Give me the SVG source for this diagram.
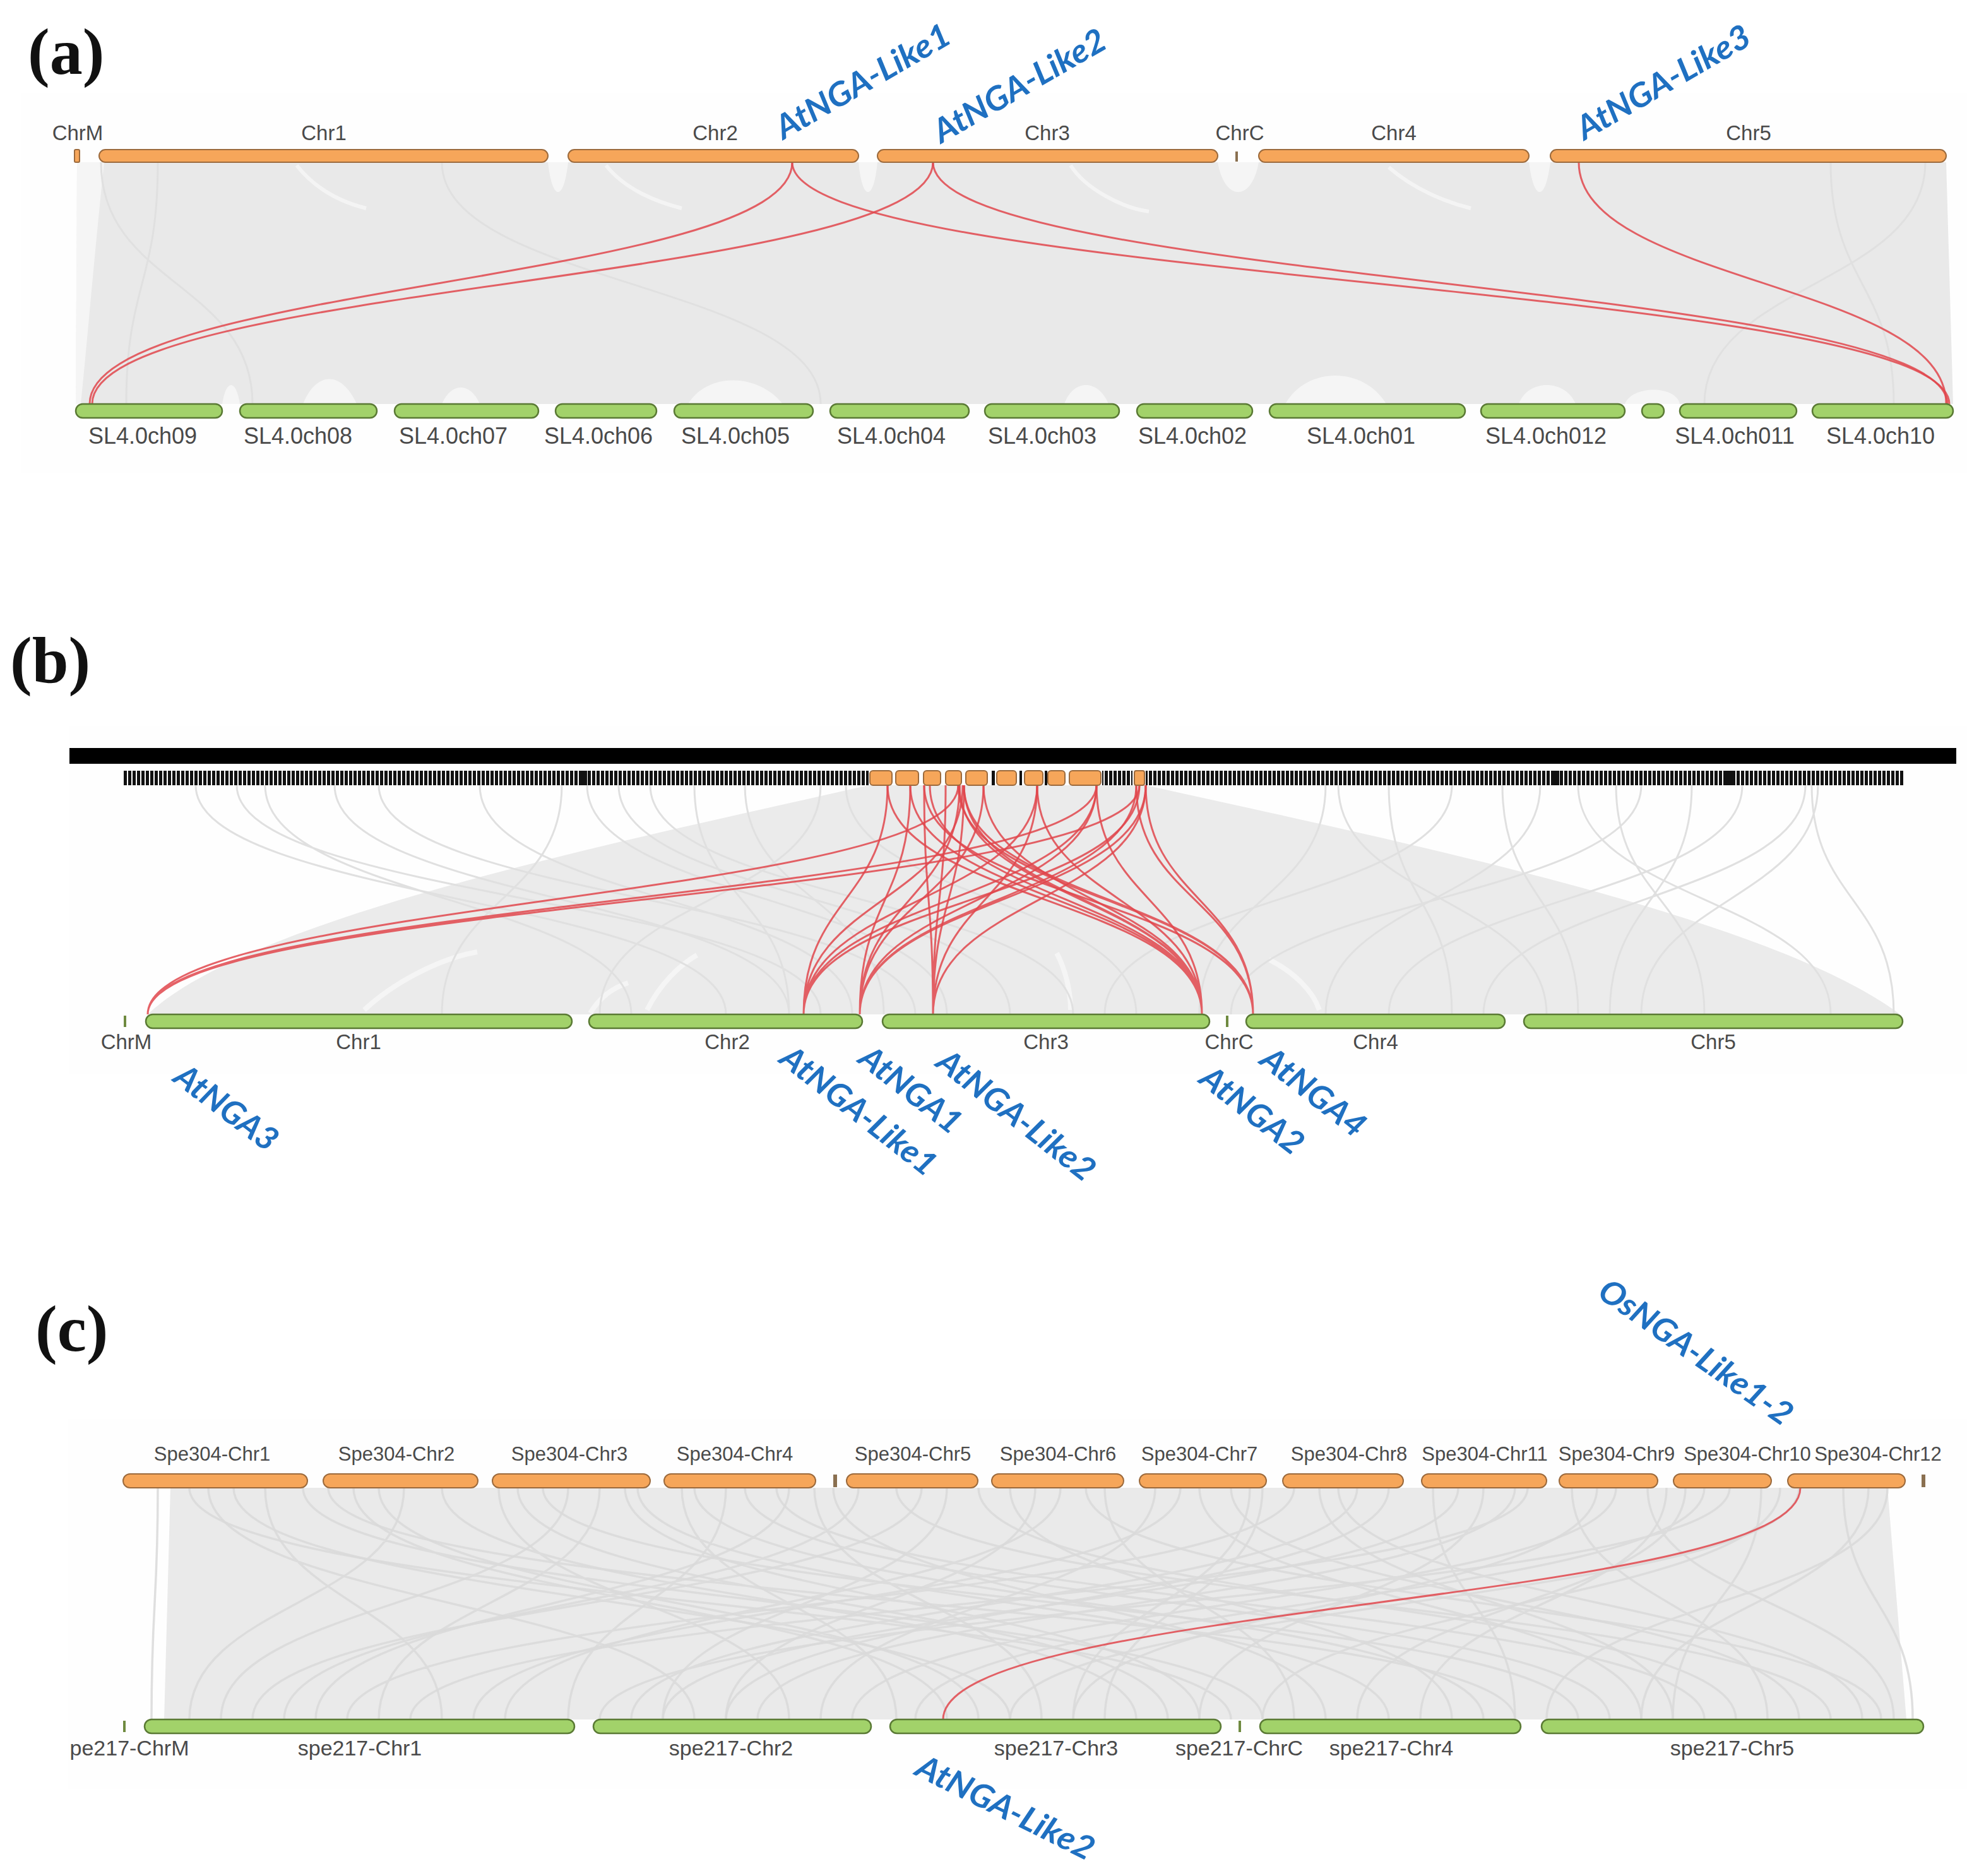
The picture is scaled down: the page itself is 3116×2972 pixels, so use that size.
<svg xmlns="http://www.w3.org/2000/svg" width="3116" height="2972" viewBox="0 0 3116 2972">
<defs>
<style>
.orn{fill:#f6a65a;stroke:#9c6a3c;stroke-width:2}
.grn{fill:#a2d26a;stroke:#5a7a34;stroke-width:2.5}
.mk{fill:#8a7050}
.mkg{fill:#6f8a40}
.lab{font-family:"Liberation Sans",Arial,sans-serif;fill:#4a4a4a;text-anchor:middle}
.l33{font-size:33px}
.l36{font-size:36px}
.l31{font-size:31px}
.l34{font-size:34px}
.gene{font-family:Lato,"Open Sans",sans-serif;font-weight:700;font-style:italic;fill:#1f70c1;font-size:52px}
.plabel{font-family:"Liberation Serif","Times New Roman",serif;font-weight:700;font-size:104px;fill:#111}
.red{fill:none;stroke:#e0474c;stroke-width:3;stroke-opacity:0.85}
.gl{fill:none;stroke:#e0e0e0;stroke-width:3}
.glc{fill:none;stroke:#d9d9d9;stroke-width:3.5;stroke-opacity:0.85}
.wh{fill:#ffffff;fill-opacity:0.55}
.whs{fill:none;stroke:#ffffff;stroke-opacity:0.5}
</style>
<pattern id="tk" width="7" height="23" patternUnits="userSpaceOnUse"><rect x="0" y="0" width="5" height="23" fill="#111"/></pattern>
</defs>
<rect width="3116" height="2972" fill="#ffffff"/>

<!-- faint panel backgrounds -->
<rect x="33" y="147" width="3083" height="602" fill="#fefefe"/>
<rect x="110" y="1150" width="3006" height="552" fill="#fefefe"/>
<rect x="108" y="2248" width="3008" height="586" fill="#fefefe"/>

<!-- panel labels -->
<text class="plabel" x="44" y="117">(a)</text>
<text class="plabel" x="16" y="1081">(b)</text>
<text class="plabel" x="56" y="2140">(c)</text>

<!-- background link areas -->
<g id="background-links">
<g id="bg-a">
<path d="M122,257 L3083,257 L3094,640 L120,640 Z" fill="#e9e9e9"/>
<path class="wh" d="M122,257 L165,257 C150,400 140,520 128,640 L120,640 Z"/>
<path class="wh" d="M868,257 C875,320 893,320 900,257 Z"/>
<path class="wh" d="M1360,257 C1366,320 1384,320 1390,257 Z"/>
<path class="wh" d="M1929,257 C1940,320 1983,320 1994,257 Z"/>
<path class="wh" d="M2422,257 C2430,320 2448,320 2456,257 Z"/>
<path class="wh" d="M352,640 C358,600 374,600 380,640 Z"/>
<path class="wh" d="M480,640 C500,590 540,585 565,640 Z"/>
<path class="wh" d="M700,640 C715,605 745,605 760,640 Z"/>
<path class="wh" d="M1090,640 C1120,590 1200,590 1240,640 Z"/>
<path class="wh" d="M1686,640 C1700,600 1740,600 1756,640 Z"/>
<path class="wh" d="M2036,640 C2070,580 2160,580 2196,640 Z"/>
<path class="wh" d="M2406,640 C2420,600 2480,600 2496,640 Z"/>
<path class="wh" d="M2574,640 C2585,610 2655,610 2661,640 Z"/>
<path class="whs" stroke-width="6" d="M470,262 C500,300 540,320 580,330 M960,262 C990,300 1040,320 1080,330 M1696,262 C1720,300 1780,330 1820,335 M2200,265 C2240,300 2290,320 2330,330"/>
<path class="gl" stroke="#dadada" d="M160,257 C160,450 400,450 400,640 M250,257 C250,450 200,450 200,640 M700,257 C700,450 1300,450 1300,640 M2900,257 C2900,450 3000,450 3000,640 M3050,257 C3050,450 2700,450 2700,640"/>
</g>
<g id="bg-b">
<path d="M1376,1244 L1815,1244 C2200,1330 2800,1450 3010,1607 L234,1607 C400,1450 1000,1330 1376,1244 Z" fill="#ebebeb"/>
<path class="whs" stroke-width="8" d="M577,1600 C620,1560 690,1520 756,1508 M935,1605 C950,1580 970,1565 995,1557 M1025,1600 C1045,1560 1075,1530 1104,1513 M1674,1510 C1690,1540 1696,1575 1696,1600 M2010,1520 C2050,1540 2080,1570 2090,1600"/>
<path class="gl" d="M310,1244 C310,1425 1150,1425 1150,1607 M375,1244 C375,1425 1300,1425 1300,1607 M420,1244 C420,1425 1000,1425 1000,1607 M530,1244 C530,1425 1250,1425 1250,1607 M600,1244 C600,1425 1450,1425 1450,1607 M890,1244 C890,1425 700,1425 700,1607 M930,1244 C930,1425 1500,1425 1500,1607 M980,1244 C980,1425 1600,1425 1600,1607 M1030,1244 C1030,1425 1700,1425 1700,1607 M1180,1244 C1180,1425 1400,1425 1400,1607 M1300,1244 C1300,1425 950,1425 950,1607 M1340,1244 C1340,1425 1800,1425 1800,1607 M760,1244 C760,1425 1350,1425 1350,1607 M1100,1244 C1100,1425 1250,1425 1250,1607"/>
<path class="gl" d="M2100,1244 C2100,1425 1900,1425 1900,1607 M2200,1244 C2200,1425 2300,1425 2300,1607 M2300,1244 C2300,1425 1750,1425 1750,1607 M2380,1244 C2380,1425 2500,1425 2500,1607 M2440,1244 C2440,1425 2100,1425 2100,1607 M2560,1244 C2560,1425 2700,1425 2700,1607 M2600,1244 C2600,1425 1950,1425 1950,1607 M2760,1244 C2760,1425 2200,1425 2200,1607 M2860,1244 C2860,1425 2350,1425 2350,1607 M2870,1244 C2870,1425 3000,1425 3000,1607 M2880,1244 C2880,1425 2600,1425 2600,1607 M2500,1244 C2500,1425 2900,1425 2900,1607 M2120,1244 C2120,1425 2450,1425 2450,1607 M2680,1244 C2680,1425 2550,1425 2550,1607"/>
</g>
<g id="bg-c">
<path d="M270,2357 L2990,2357 L3020,2724 L260,2724 Z" fill="#eaeaea"/>
<path class="glc" d="M250,2357 C250,2540 240,2540 240,2724 M330,2357 C330,2540 1100,2540 1100,2724 M420,2357 C420,2540 700,2540 700,2724 M480,2357 C480,2540 2000,2540 2000,2724 M560,2357 C560,2540 1500,2540 1500,2724 M640,2357 C640,2540 300,2540 300,2724 M700,2357 C700,2540 1800,2540 1800,2724 M790,2357 C790,2540 1250,2540 1250,2724 M860,2357 C860,2540 2500,2540 2500,2724 M950,2357 C950,2540 600,2540 600,2724 M1010,2357 C1010,2540 2200,2540 2200,2724 M1080,2357 C1080,2540 1420,2540 1420,2724 M1150,2357 C1150,2540 900,2540 900,2724 M1230,2357 C1230,2540 2700,2540 2700,2724 M1290,2357 C1290,2540 1650,2540 1650,2724 M1360,2357 C1360,2540 450,2540 450,2724 M1420,2357 C1420,2540 2900,2540 2900,2724 M1500,2357 C1500,2540 1050,2540 1050,2724 M1600,2357 C1600,2540 2300,2540 2300,2724 M1680,2357 C1680,2540 800,2540 800,2724 M1750,2357 C1750,2540 2050,2540 2050,2724 M1830,2357 C1830,2540 1300,2540 1300,2724 M1900,2357 C1900,2540 2600,2540 2600,2724 M1980,2357 C1980,2540 1700,2540 1700,2724 M2050,2357 C2050,2540 550,2540 550,2724"/>
<path class="glc" d="M2120,2357 C2120,2540 2950,2540 2950,2724 M2200,2357 C2200,2540 1150,2540 1150,2724 M2270,2357 C2270,2540 2400,2540 2400,2724 M2350,2357 C2350,2540 1900,2540 1900,2724 M2420,2357 C2420,2540 650,2540 650,2724 M2490,2357 C2490,2540 2800,2540 2800,2724 M2560,2357 C2560,2540 1350,2540 1350,2724 M2610,2357 C2610,2540 3000,2540 3000,2724 M2670,2357 C2670,2540 2150,2540 2150,2724 M2740,2357 C2740,2540 950,2540 950,2724 M2790,2357 C2790,2540 2650,2540 2650,2724 M2850,2357 C2850,2540 1600,2540 1600,2724 M2920,2357 C2920,2540 3030,2540 3030,2724 M2990,2357 C2990,2540 2450,2540 2450,2724 M300,2357 C300,2540 1950,2540 1950,2724 M900,2357 C900,2540 350,2540 350,2724 M1550,2357 C1550,2540 2750,2540 2750,2724 M2150,2357 C2150,2540 1000,2540 1000,2724 M2700,2357 C2700,2540 1450,2540 1450,2724 M600,2357 C600,2540 1550,2540 1550,2724 M1100,2357 C1100,2540 2350,2540 2350,2724 M2400,2357 C2400,2540 1200,2540 1200,2724 M1950,2357 C1950,2540 2850,2540 2850,2724 M1250,2357 C1250,2540 500,2540 500,2724 M2000,2357 C2000,2540 1750,2540 1750,2724"/>
<path class="glc" d="M370,2357 C370,2540 1600,2540 1600,2724 M520,2357 C520,2540 2400,2540 2400,2724 M820,2357 C820,2540 1850,2540 1850,2724 M1180,2357 C1180,2540 2550,2540 2550,2724 M1460,2357 C1460,2540 400,2540 400,2724 M1640,2357 C1640,2540 1150,2540 1150,2724 M1870,2357 C1870,2540 750,2540 750,2724 M2090,2357 C2090,2540 2650,2540 2650,2724 M2310,2357 C2310,2540 1050,2540 1050,2724 M2530,2357 C2530,2540 1700,2540 1700,2724 M2640,2357 C2640,2540 2250,2540 2250,2724 M2820,2357 C2820,2540 2000,2540 2000,2724 M2960,2357 C2960,2540 2600,2540 2600,2724 M1720,2357 C1720,2540 2980,2540 2980,2724 M990,2357 C990,2540 1900,2540 1900,2724 M1320,2357 C1320,2540 2100,2540 2100,2724"/>
</g>
</g>

<!-- highlighted connectors -->
<g id="connectors">
<g id="links-a">
<path class="red" d="M1255,257 C1255,448 142,448 142,640"/>
<path class="red" d="M1255,257 C1255,448 3088,448 3088,640"/>
<path class="red" d="M1478,257 C1478,448 146,448 146,640"/>
<path class="red" d="M1478,257 C1478,448 3085,448 3085,640"/>
<path class="red" d="M2501,257 C2501,448 3083,448 3083,640"/>
</g>
<g id="links-b">
<path class="red" d="M1518,1244 C1518,1425 234,1425 234,1607 M1737,1244 C1737,1425 234,1425 234,1607 M1805,1244 C1805,1425 234,1425 234,1607"/>
<path class="red" d="M1406,1244 C1406,1425 1273,1425 1273,1607 M1525,1244 C1525,1425 1273,1425 1273,1607 M1643,1244 C1643,1425 1273,1425 1273,1607 M1737,1244 C1737,1425 1273,1425 1273,1607 M1805,1244 C1805,1425 1273,1425 1273,1607"/>
<path class="red" d="M1442,1244 C1442,1425 1362,1425 1362,1607 M1520,1244 C1520,1425 1362,1425 1362,1607 M1558,1244 C1558,1425 1362,1425 1362,1607 M1737,1244 C1737,1425 1362,1425 1362,1607 M1800,1244 C1800,1425 1362,1425 1362,1607 M1815,1244 C1815,1425 1362,1425 1362,1607"/>
<path class="red" d="M1464,1244 C1464,1425 1478,1425 1478,1607 M1498,1244 C1498,1425 1478,1425 1478,1607 M1527,1244 C1527,1425 1478,1425 1478,1607 M1643,1244 C1643,1425 1478,1425 1478,1607 M1815,1244 C1815,1425 1478,1425 1478,1607"/>
<path class="red" d="M1406,1244 C1406,1425 1904,1425 1904,1607 M1442,1244 C1442,1425 1904,1425 1904,1607 M1473,1244 C1473,1425 1904,1425 1904,1607 M1520,1244 C1520,1425 1904,1425 1904,1607 M1527,1244 C1527,1425 1904,1425 1904,1607 M1558,1244 C1558,1425 1904,1425 1904,1607 M1643,1244 C1643,1425 1904,1425 1904,1607 M1737,1244 C1737,1425 1904,1425 1904,1607"/>
<path class="red" d="M1464,1244 C1464,1425 1985,1425 1985,1607 M1518,1244 C1518,1425 1985,1425 1985,1607 M1527,1244 C1527,1425 1985,1425 1985,1607 M1800,1244 C1800,1425 1985,1425 1985,1607 M1815,1244 C1815,1425 1985,1425 1985,1607"/>
</g>
<g id="links-c">
<path class="red" d="M2852,2357 C2852,2540 1494,2540 1494,2724"/>
</g>
</g>

<!-- panel (a) chromosomes -->
<g id="a-top">
<g id="a-ChrM"><rect class="orn" x="118" y="237" width="8" height="20" rx="2"/><text class="lab l33" x="123" y="222">ChrM</text></g>
<g id="a-Chr1"><rect class="orn" x="157" y="237" width="711" height="20" rx="10"/><text class="lab l33" x="513" y="222">Chr1</text></g>
<g id="a-Chr2"><rect class="orn" x="900" y="237" width="460" height="20" rx="10"/><text class="lab l33" x="1133" y="222">Chr2</text></g>
<g id="a-Chr3"><rect class="orn" x="1390" y="237" width="539" height="20" rx="10"/><text class="lab l33" x="1659" y="222">Chr3</text></g>
<g id="a-ChrC"><rect class="mk" x="1957" y="240" width="4" height="16"/><text class="lab l33" x="1964" y="222">ChrC</text></g>
<g id="a-Chr4"><rect class="orn" x="1994" y="237" width="428" height="20" rx="10"/><text class="lab l33" x="2208" y="222">Chr4</text></g>
<g id="a-Chr5"><rect class="orn" x="2456" y="237" width="627" height="20" rx="10"/><text class="lab l33" x="2770" y="222">Chr5</text></g>
</g>
<g id="a-bottom">
<g id="a-ch09"><rect class="grn" x="120" y="640" width="232" height="22" rx="11"/><text class="lab l36" x="226" y="703">SL4.0ch09</text></g>
<g id="a-ch08"><rect class="grn" x="380" y="640" width="217" height="22" rx="11"/><text class="lab l36" x="472" y="703">SL4.0ch08</text></g>
<g id="a-ch07"><rect class="grn" x="625" y="640" width="228" height="22" rx="11"/><text class="lab l36" x="718" y="703">SL4.0ch07</text></g>
<g id="a-ch06"><rect class="grn" x="880" y="640" width="160" height="22" rx="11"/><text class="lab l36" x="948" y="703">SL4.0ch06</text></g>
<g id="a-ch05"><rect class="grn" x="1068" y="640" width="220" height="22" rx="11"/><text class="lab l36" x="1165" y="703">SL4.0ch05</text></g>
<g id="a-ch04"><rect class="grn" x="1315" y="640" width="220" height="22" rx="11"/><text class="lab l36" x="1412" y="703">SL4.0ch04</text></g>
<g id="a-ch03"><rect class="grn" x="1560" y="640" width="213" height="22" rx="11"/><text class="lab l36" x="1651" y="703">SL4.0ch03</text></g>
<g id="a-ch02"><rect class="grn" x="1801" y="640" width="183" height="22" rx="11"/><text class="lab l36" x="1889" y="703">SL4.0ch02</text></g>
<g id="a-ch01"><rect class="grn" x="2011" y="640" width="310" height="22" rx="11"/><text class="lab l36" x="2156" y="703">SL4.0ch01</text></g>
<g id="a-ch012"><rect class="grn" x="2346" y="640" width="228" height="22" rx="11"/><text class="lab l36" x="2449" y="703">SL4.0ch012</text></g>
<g id="a-chdot"><rect class="grn" x="2601" y="640" width="35" height="22" rx="11"/></g>
<g id="a-ch011"><rect class="grn" x="2661" y="640" width="185" height="22" rx="11"/><text class="lab l36" x="2748" y="703">SL4.0ch011</text></g>
<g id="a-ch10"><rect class="grn" x="2871" y="640" width="223" height="22" rx="11"/><text class="lab l36" x="2979" y="703">SL4.0ch10</text></g>
</g>
<g id="a-genes">
<text class="gene" transform="translate(1241,222) rotate(-30)" textLength="311" lengthAdjust="spacingAndGlyphs">AtNGA-Like1</text>
<text class="gene" transform="translate(1491,228) rotate(-30)" textLength="307" lengthAdjust="spacingAndGlyphs">AtNGA-Like2</text>
<text class="gene" transform="translate(2510,223) rotate(-30)" textLength="309" lengthAdjust="spacingAndGlyphs">AtNGA-Like3</text>
</g>

<!-- panel (b) -->
<g id="b-top">
<rect x="110" y="1185" width="2989" height="25" fill="#000"/>
<g id="b-ticks">
<rect x="195" y="1221" width="1181" height="23" fill="url(#tk)"/>
<rect x="1746" y="1221" width="48" height="23" fill="url(#tk)"/>
<rect x="1815" y="1221" width="1201" height="23" fill="url(#tk)"/>
<rect x="918" y="1221" width="12" height="23" fill="#111"/>
<rect x="2458" y="1221" width="12" height="23" fill="#111"/>
<rect x="2733" y="1221" width="12" height="23" fill="#111"/>
<rect x="1571" y="1221" width="5" height="23" fill="#111"/>
<rect x="1615" y="1221" width="4" height="23" fill="#111"/>
<rect x="1655" y="1221" width="4" height="23" fill="#111"/>
</g>
<g id="b-blocks">
<rect class="orn" x="1378" y="1221" width="35" height="23" rx="5"/>
<rect class="orn" x="1419" y="1221" width="36" height="23" rx="5"/>
<rect class="orn" x="1463" y="1221" width="27" height="23" rx="5"/>
<rect class="orn" x="1498" y="1221" width="25" height="23" rx="5"/>
<rect class="orn" x="1530" y="1221" width="34" height="23" rx="5"/>
<rect class="orn" x="1579" y="1221" width="31" height="23" rx="5"/>
<rect class="orn" x="1623" y="1221" width="29" height="23" rx="5"/>
<rect class="orn" x="1660" y="1221" width="27" height="23" rx="5"/>
<rect class="orn" x="1694" y="1221" width="50" height="23" rx="5"/>
<rect class="orn" x="1797" y="1221" width="16" height="23" rx="3"/>
</g>
</g>
<g id="b-bottom">
<g id="b-ChrM"><rect class="mkg" x="196" y="1609" width="4" height="18"/><text class="lab l33" x="200" y="1662">ChrM</text></g>
<g id="b-Chr1"><rect class="grn" x="231" y="1607" width="675" height="22" rx="11"/><text class="lab l33" x="568" y="1662">Chr1</text></g>
<g id="b-Chr2"><rect class="grn" x="933" y="1607" width="433" height="22" rx="11"/><text class="lab l33" x="1152" y="1662">Chr2</text></g>
<g id="b-Chr3"><rect class="grn" x="1398" y="1607" width="518" height="22" rx="11"/><text class="lab l33" x="1657" y="1662">Chr3</text></g>
<g id="b-ChrC"><rect class="mkg" x="1942" y="1609" width="4" height="18"/><text class="lab l33" x="1947" y="1662">ChrC</text></g>
<g id="b-Chr4"><rect class="grn" x="1974" y="1607" width="410" height="22" rx="11"/><text class="lab l33" x="2179" y="1662">Chr4</text></g>
<g id="b-Chr5"><rect class="grn" x="2414" y="1607" width="600" height="22" rx="11"/><text class="lab l33" x="2714" y="1662">Chr5</text></g>
</g>
<g id="b-genes">
<text class="gene" transform="translate(272,1712) rotate(37)" textLength="190" lengthAdjust="spacingAndGlyphs">AtNGA3</text>
<text class="gene" transform="translate(1232,1682) rotate(38)" textLength="298" lengthAdjust="spacingAndGlyphs">AtNGA-Like1</text>
<text class="gene" transform="translate(1357,1682) rotate(38)" textLength="190" lengthAdjust="spacingAndGlyphs">AtNGA1</text>
<text class="gene" transform="translate(1480,1688) rotate(38)" textLength="302" lengthAdjust="spacingAndGlyphs">AtNGA-Like2</text>
<text class="gene" transform="translate(1897,1714) rotate(38)" textLength="192" lengthAdjust="spacingAndGlyphs">AtNGA2</text>
<text class="gene" transform="translate(1993,1684) rotate(38)" textLength="195" lengthAdjust="spacingAndGlyphs">AtNGA4</text>
</g>

<!-- panel (c) -->
<g id="c-top">
<g id="c-Chr1"><rect class="orn" x="195" y="2335" width="292" height="22" rx="11"/><text class="lab l31" x="336" y="2314">Spe304-Chr1</text></g>
<g id="c-Chr2"><rect class="orn" x="512" y="2335" width="245" height="22" rx="11"/><text class="lab l31" x="628" y="2314">Spe304-Chr2</text></g>
<g id="c-Chr3"><rect class="orn" x="780" y="2335" width="250" height="22" rx="11"/><text class="lab l31" x="902" y="2314">Spe304-Chr3</text></g>
<g id="c-Chr4"><rect class="orn" x="1052" y="2335" width="240" height="22" rx="11"/><text class="lab l31" x="1164" y="2314">Spe304-Chr4</text></g>
<g id="c-mark1"><rect class="mk" x="1320" y="2336" width="6" height="20"/></g>
<g id="c-Chr5"><rect class="orn" x="1341" y="2335" width="208" height="22" rx="11"/><text class="lab l31" x="1446" y="2314">Spe304-Chr5</text></g>
<g id="c-Chr6"><rect class="orn" x="1571" y="2335" width="209" height="22" rx="11"/><text class="lab l31" x="1676" y="2314">Spe304-Chr6</text></g>
<g id="c-Chr7"><rect class="orn" x="1805" y="2335" width="201" height="22" rx="11"/><text class="lab l31" x="1900" y="2314">Spe304-Chr7</text></g>
<g id="c-Chr8"><rect class="orn" x="2032" y="2335" width="191" height="22" rx="11"/><text class="lab l31" x="2137" y="2314">Spe304-Chr8</text></g>
<g id="c-Chr11"><rect class="orn" x="2252" y="2335" width="198" height="22" rx="11"/><text class="lab l31" x="2352" y="2314">Spe304-Chr11</text></g>
<g id="c-Chr9"><rect class="orn" x="2470" y="2335" width="156" height="22" rx="11"/><text class="lab l31" x="2561" y="2314">Spe304-Chr9</text></g>
<g id="c-Chr10"><rect class="orn" x="2651" y="2335" width="155" height="22" rx="11"/><text class="lab l31" x="2768" y="2314">Spe304-Chr10</text></g>
<g id="c-Chr12"><rect class="orn" x="2832" y="2335" width="186" height="22" rx="11"/><text class="lab l31" x="2975" y="2314">Spe304-Chr12</text></g>
<g id="c-mark2"><rect class="mk" x="3044" y="2336" width="6" height="20"/></g>
</g>
<g id="c-bottom">
<g id="c-ChrM"><rect class="mkg" x="195" y="2726" width="4" height="18"/><text class="lab l34" x="205" y="2781">pe217-ChrM</text></g>
<g id="c-b-Chr1"><rect class="grn" x="229" y="2724" width="681" height="22" rx="11"/><text class="lab l34" x="570" y="2781">spe217-Chr1</text></g>
<g id="c-b-Chr2"><rect class="grn" x="940" y="2724" width="440" height="22" rx="11"/><text class="lab l34" x="1158" y="2781">spe217-Chr2</text></g>
<g id="c-b-Chr3"><rect class="grn" x="1410" y="2724" width="524" height="22" rx="11"/><text class="lab l34" x="1673" y="2781">spe217-Chr3</text></g>
<g id="c-b-ChrC"><rect class="mkg" x="1962" y="2726" width="4" height="18"/><text class="lab l34" x="1963" y="2781">spe217-ChrC</text></g>
<g id="c-b-Chr4"><rect class="grn" x="1996" y="2724" width="413" height="22" rx="11"/><text class="lab l34" x="2204" y="2781">spe217-Chr4</text></g>
<g id="c-b-Chr5"><rect class="grn" x="2442" y="2724" width="605" height="22" rx="11"/><text class="lab l34" x="2744" y="2781">spe217-Chr5</text></g>
</g>
<g id="c-genes">
<text class="gene" transform="translate(2528,2053) rotate(35)" textLength="362" lengthAdjust="spacingAndGlyphs">OsNGA-Like1-2</text>
<text class="gene" transform="translate(1447,2811) rotate(26.5)" textLength="308" lengthAdjust="spacingAndGlyphs">AtNGA-Like2</text>
</g>
</svg>
